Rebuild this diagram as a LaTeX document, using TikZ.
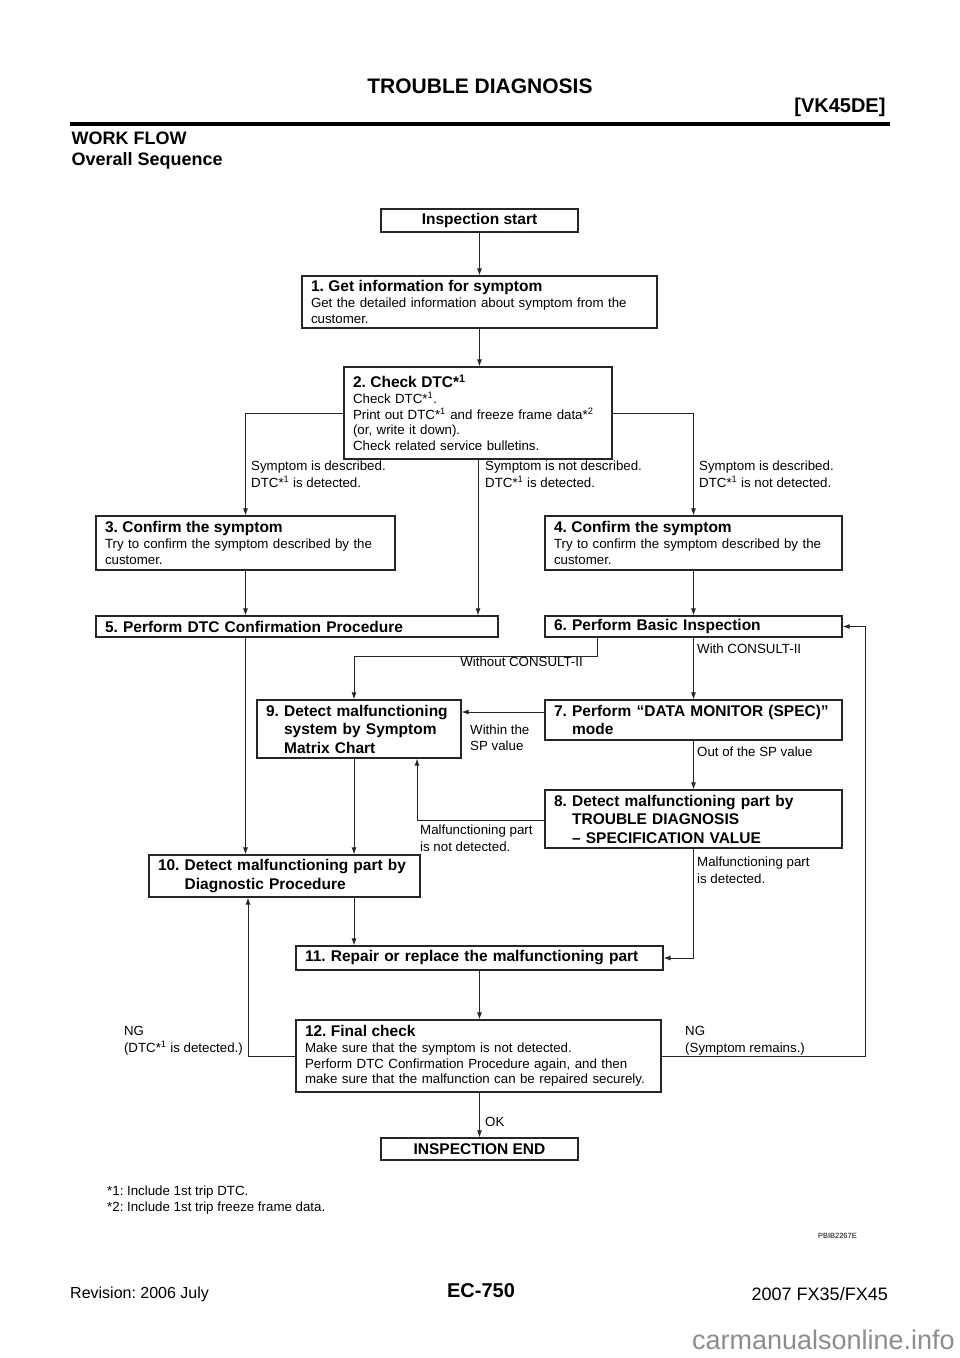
\documentclass[tikz,border=0pt]{standalone}
\usepackage{fontspec}
\setmainfont{Liberation Sans}
\usepackage{tikz}
\usetikzlibrary{arrows.meta}
\tikzstyle{block} = [rectangle, draw=black!85, line width=1.1pt, align=left,
inner xsep=9pt, inner ysep=3pt, font=\fontsize{13.3}{15.7}\selectfont]
\tikzstyle{bblock} = [block, font=\fontsize{15.5}{18.5}\selectfont\bfseries]
\tikzstyle{term} = [rectangle, draw=black!85, line width=1.1pt, align=center,
inner sep=0pt, font=\fontsize{15.5}{18}\selectfont\bfseries]
\tikzstyle{line} = [draw=black!85, line width=1pt, -{Latex[length=7pt,width=5pt]}]
\tikzstyle{cond} = [align=left, inner sep=0pt, anchor=north west,
font=\fontsize{13.3}{17}\selectfont]
\newcommand{\steptitle}[1]{{\fontsize{15.5}{16}\selectfont\bfseries #1}}
\newcommand{\dtcmark}{DTC*\textsuperscript{1}}

\begin{document}
\frenchspacing
\begin{tikzpicture}[x=1pt, y=-1pt]
	\useasboundingbox (0,0) rectangle (960,1358);
	% Page header
	\node [font=\fontsize{21}{24}\selectfont\bfseries] (pagetitle) at (480,86) {TROUBLE DIAGNOSIS};
	\node [anchor=east, font=\fontsize{20}{24}\selectfont\bfseries] (engine) at (889,107) {[VK45DE]};
	\draw [line width=3.5pt] (70,124) -- (890,124);
	\node [anchor=west, font=\fontsize{18}{22}\selectfont\bfseries] (section) at (68,138) {WORK FLOW};
	\node [anchor=west, font=\fontsize{18}{22}\selectfont\bfseries] (subsection) at (68,161) {Overall Sequence};
	
	% Place nodes
	\node [term, minimum width=197pt, minimum height=23pt] (start) at (479.5,220.5) {Inspection start};
	\node [block, text width=337pt, minimum height=52pt] (info) at (479.5,302) {%
		\steptitle{1. Get information for symptom}\\
		Get the detailed information about symptom from the\\
		customer.};
	\node [block, text width=250pt, minimum height=92pt] (dtc) at (478,413) {%
		\steptitle{2. Check \dtcmark}\\
		Check \dtcmark.\\
		Print out \dtcmark{} and freeze frame data*\textsuperscript{2}\\
		(or, write it down).\\
		Check related service bulletins.};
	\node [block, text width=281pt, minimum height=54pt] (confa) at (245.5,543) {%
		\steptitle{3. Confirm the symptom}\\
		Try to confirm the symptom described by the\\
		customer.};
	\node [block, text width=279pt, minimum height=54pt] (confb) at (693.5,543) {%
		\steptitle{4. Confirm the symptom}\\
		Try to confirm the symptom described by the\\
		customer.};
	\node [bblock, text width=384pt, minimum height=21pt] (dtcproc) at (297,626.5) {5. Perform DTC Confirmation Procedure};
	\node [bblock, text width=279pt, minimum height=21pt] (basic) at (693.5,626.5) {6. Perform Basic Inspection};
	\node [bblock, text width=279pt, minimum height=40pt] (spec) at (693.5,720) {%
		7. Perform “DATA MONITOR (SPEC)”\\
		\phantom{7. }mode};
	\node [bblock, text width=279pt, minimum height=58pt] (specval) at (693.5,819) {%
		8. Detect malfunctioning part by\\
		\phantom{8. }TROUBLE DIAGNOSIS\\
		\phantom{8. }– SPECIFICATION VALUE};
	\node [bblock, text width=186pt, minimum height=58pt] (matrix) at (359,729) {%
		9. Detect malfunctioning\\
		\phantom{9. }system by Symptom\\
		\phantom{9. }Matrix Chart};
	\node [bblock, text width=253pt, minimum height=42pt] (diag) at (284.5,876) {%
		10. Detect malfunctioning part by\\
		\phantom{10. }Diagnostic Procedure};
	\node [bblock, text width=349pt, minimum height=24pt] (repair) at (479.5,958) {11. Repair or replace the malfunctioning part};
	\node [block, text width=347pt, minimum height=72pt] (final) at (478.5,1056) {%
		\steptitle{12. Final check}\\
		Make sure that the symptom is not detected.\\
		Perform DTC Confirmation Procedure again, and then\\
		make sure that the malfunction can be repaired securely.};
	\node [term, minimum width=197pt, minimum height=22pt] (finish) at (479.5,1149) {INSPECTION END};
	
	% Connectors
	\coordinate (without) at (597,656);
	\coordinate (loop) at (865,1056);
	\path [line] (start) -- (info);
	\path [line] (info.south) -- (info.south |- dtc.north);
	\path [line] (dtc.west) -| (confa.north);
	\path [line] (dtc.east) -| (confb.north);
	\path [line] (dtc.south) -- (dtc.south |- dtcproc.north);
	\path [line] (confa) -- (confa |- dtcproc.north);
	\path [line] (confb) -- (basic);
	\path [line] (confa.south |- dtcproc.south) -- (confa.south |- diag.north);
	\path [line] (basic.south -| without) -- (without) -| ([xshift=-5pt]matrix.north);
	\path [line] (basic) -- (spec);
	\path [line] (spec.west |- 0,712) -- (matrix.east |- 0,712);
	\path [line] (spec) -- (specval);
	\path [line] (specval.west |- 0,820) -| ([xshift=58pt]matrix.south);
	\path [line] ([xshift=-5pt]matrix.south) -- ([xshift=-5pt]matrix.south |- diag.north);
	\path [line] (specval.south) |- (repair.east);
	\path [line] ([xshift=69.5pt]diag.south) -- ([xshift=69.5pt]diag.south |- repair.north);
	\path [line] (repair.south) -- (repair.south |- final.north);
	\path [line] (final.west) -| ([xshift=-36.5pt]diag.south);
	\path [line] (final.east) -- (final.east -| loop) |- (basic.east);
	\path [line] (finish.north |- final.south) -- (finish.north);
	
	% Branch conditions
	\node [cond] (descdet) at (251,461) {Symptom is described.\\\dtcmark{} is detected.};
	\node [cond] (nodescdet) at (485,461) {Symptom is not described.\\\dtcmark{} is detected.};
	\node [cond] (descnodet) at (699,461) {Symptom is described.\\\dtcmark{} is not detected.};
	\node [cond, anchor=north east] (noconsult) at (583,657) {Without CONSULT-II};
	\node [cond] (consult) at (697,644) {With CONSULT-II};
	\node [cond, font=\fontsize{13.3}{15.5}\selectfont] (within) at (470,725) {Within the\\SP value};
	\node [cond] (outside) at (697,747) {Out of the SP value};
	\node [cond] (partnot) at (420,825) {Malfunctioning part\\is not detected.};
	\node [cond] (partdet) at (697,857) {Malfunctioning part\\is detected.};
	\node [cond, anchor=north east] (ngdtc) at (243,1026) {NG\\(\dtcmark{} is detected.)};
	\node [cond] (ngsym) at (685,1026) {NG\\(Symptom remains.)};
	\node [cond] (ok) at (485,1117) {OK};
	
	% Footnotes and page footer
	\node [cond, font=\fontsize{13.3}{16}\selectfont] (notes) at (107,1186) {*1: Include 1st trip DTC.\\*2: Include 1st trip freeze frame data.};
	\node [anchor=east, inner sep=0pt, font=\fontsize{7.5}{9}\selectfont] (figid) at (857,1236) {PBIB2267E};
	\node [anchor=west, inner sep=0pt, font=\fontsize{16}{19}\selectfont] (revision) at (70,1294) {Revision: 2006 July};
	\node [font=\fontsize{20}{24}\selectfont\bfseries] (pageno) at (481,1291) {EC-750};
	\node [anchor=east, inner sep=0pt, font=\fontsize{18}{21}\selectfont] (model) at (888,1294) {2007 FX35/FX45};
	\node [anchor=east, inner sep=0pt, text=black!45, font=\fontsize{27}{30}\selectfont] (watermark) at (955,1340) {carmanualsonline.info};
\end{tikzpicture}
\end{document}
